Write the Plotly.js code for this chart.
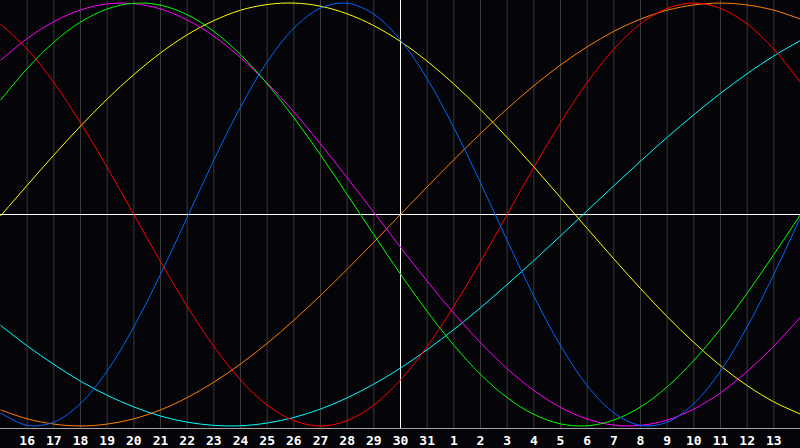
<!DOCTYPE html>
<html>
<head>
<meta charset="utf-8">
<script src="https://cdn.plot.ly/plotly-3.0.1.min.js"></script>
<style>
html,body{margin:0;padding:0;background:#050408;}
#chart{width:800px;height:448px;}
</style>
</head>
<body>
<div id="chart"></div>
<script>
// Day labels for each plotted day (index 0 .. 30)
const dayLabels = [15,16,17,18,19,20,21,22,23,24,25,26,27,28,29,30,31,1,2,3,4,5,6,7,8,9,10,11,12,13,14];
const todayIndex = 15;

// Curve values (-1 .. 1), one per day
const physical = [-0.938,-0.997,-0.982,-0.894,-0.740,-0.531,-0.283,-0.014,0.257,0.508,0.722,0.881,0.976,0.999,0.947,0.825,0.642,0.411,0.150,-0.123,-0.386,-0.620,-0.809,-0.938,-0.997,-0.982,-0.894,-0.740,-0.531,-0.283,-0.013];
const emotional = [0.901,0.782,0.624,0.434,0.223,0,-0.223,-0.434,-0.624,-0.782,-0.901,-0.975,-1,-0.975,-0.901,-0.782,-0.624,-0.434,-0.223,0,0.223,0.434,0.624,0.782,0.901,0.975,1,0.975,0.901,0.782,0.624];
const intellectual = [0.541,0.690,0.815,0.910,0.972,0.999,0.990,0.945,0.866,0.756,0.618,0.458,0.282,0.095,-0.095,-0.282,-0.458,-0.618,-0.756,-0.866,-0.945,-0.990,-0.999,-0.972,-0.910,-0.815,-0.690,-0.541,-0.372,-0.189,0];
const intuitive = [0.729,0.832,0.912,0.967,0.996,0.997,0.972,0.920,0.843,0.742,0.622,0.485,0.334,0.174,0.010,-0.155,-0.315,-0.467,-0.606,-0.729,-0.832,-0.912,-0.967,-0.996,-0.997,-0.972,-0.920,-0.843,-0.742,-0.622,-0.485];
const aesthetic = [-0.007,0.138,0.281,0.418,0.546,0.662,0.764,0.850,0.917,0.966,0.993,1.000,0.985,0.949,0.893,0.818,0.725,0.617,0.496,0.364,0.225,0.080,-0.066,-0.210,-0.350,-0.483,-0.605,-0.715,-0.809,-0.886,-0.944];
const awareness = [-0.924,-0.966,-0.991,-1,-0.991,-0.966,-0.924,-0.866,-0.793,-0.707,-0.609,-0.5,-0.383,-0.259,-0.131,0,0.131,0.259,0.383,0.5,0.609,0.707,0.793,0.866,0.924,0.966,0.991,1,0.991,0.966,0.924];
const spiritual = [-0.524,-0.621,-0.709,-0.788,-0.855,-0.910,-0.953,-0.982,-0.997,-0.999,-0.986,-0.960,-0.920,-0.867,-0.802,-0.726,-0.639,-0.544,-0.441,-0.331,-0.218,-0.101,0.018,0.136,0.252,0.365,0.472,0.573,0.666,0.750,0.823];

const xs = dayLabels.map((d, i) => i);

const series = [
  {name: 'spiritual', y: spiritual, color: '#00ffff'},
  {name: 'awareness', y: awareness, color: '#ff8000'},
  {name: 'aesthetic', y: aesthetic, color: '#ffff00'},
  {name: 'intuitive', y: intuitive, color: '#ff00ff'},
  {name: 'intellectual', y: intellectual, color: '#00ff00'},
  {name: 'emotional', y: emotional, color: '#ff0000'},
  {name: 'physical', y: physical, color: '#0066ff'}
];

const traces = series.map(s => ({
  type: 'scatter', mode: 'lines', name: s.name,
  x: xs, y: s.y,
  line: {color: s.color, width: 1, shape: 'spline', smoothing: 1},
  hoverinfo: 'skip'
}));

const tickIdx = xs.slice(1, 30);
const tickTxt = tickIdx.map(i => String(dayLabels[i]));

const layout = {
  width: 800, height: 448,
  margin: {l: 0, r: 0, t: 0, b: 20, pad: 0},
  paper_bgcolor: '#050408',
  plot_bgcolor: '#050408',
  showlegend: false,
  xaxis: {
    range: [-0.01875, 29.98125], fixedrange: true,
    tickmode: 'array', tickvals: tickIdx, ticktext: tickTxt,
    ticks: '', showgrid: false, zeroline: false,
    showline: true, linecolor: '#a0a0a0', linewidth: 1, mirror: true,
    tickfont: {family: 'DejaVu Sans Mono', size: 13, color: '#ffffff', weight: 'bold'}
  },
  yaxis: {
    range: [-1.0096, 1.0144], fixedrange: true,
    showticklabels: false, ticks: '', showgrid: false,
    zeroline: false,
    showline: true, linecolor: '#a0a0a0', linewidth: 1, mirror: true
  },
  shapes: []
};

// vertical day grid lines
xs.forEach(i => {
  if (i === 0 || i === 30) return;
  layout.shapes.push({type: 'line', xref: 'x', yref: 'paper', x0: i, x1: i, y0: 0, y1: 1,
    line: {color: '#3a3a3a', width: 1}, layer: 'below'});
});
// midline and today line
layout.shapes.push({type: 'line', xref: 'paper', yref: 'y', x0: 0, x1: 1, y0: 0, y1: 0,
  line: {color: '#ffffff', width: 1}, layer: 'below'});
layout.shapes.push({type: 'line', xref: 'x', yref: 'paper', x0: todayIndex, x1: todayIndex, y0: 0, y1: 1,
  line: {color: '#ffffff', width: 1}, layer: 'below'});

Plotly.newPlot('chart', traces, layout, {displayModeBar: false, staticPlot: true});
</script>
</body>
</html>
